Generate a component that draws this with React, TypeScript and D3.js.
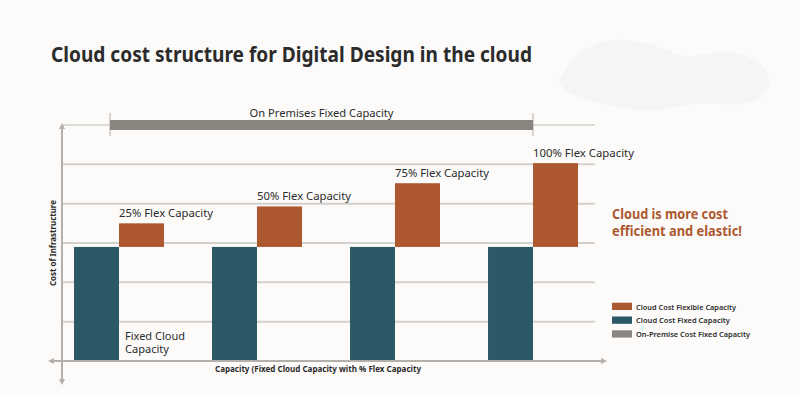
import React from "react";
import * as d3 from "d3";

const categories = ["25%", "50%", "75%", "100%"];
const flexLabels = ["25% Flex Capacity", "50% Flex Capacity", "75% Flex Capacity", "100% Flex Capacity"];
const fixedValues = [2.9, 2.9, 2.9, 2.9];
const flexValues = [0.6, 1.03, 1.62, 2.13];
const onPremValue = 6;
const gridValues = [1, 2, 3, 4, 5, 6];
const legendItems = ["Cloud Cost Flexible Capacity", "Cloud Cost Fixed Capacity", "On-Premise Cost Fixed Capacity"];

const TEAL = "#2c5968";
const ORANGE = "#ad582e";
const GRAY = "#8a857f";
const GRID = "#d3d0cd";
const AXIS = "#b3afab";
const TEXT = "#2b2b2b";
const FONT = "'Noto Sans', 'Open Sans', sans-serif";

export default function App() {
  const W = 800, H = 395;
  const x = d3.scaleBand<string>().domain(categories).range([74, 578]).paddingInner(0.348).paddingOuter(0);
  const sub = d3.scaleBand<string>().domain(["fixed", "flex"]).range([0, x.bandwidth()]).padding(0);
  const y = d3.scaleLinear().domain([0, 6]).range([361, 125]);

  const axisX0 = 50, axisX1 = 605, gridX1 = 595, yAxisX = 62;
  const premStart = (x(categories[0]) as number) + x.bandwidth() * 0.4;
  const premEnd = (x(categories[3]) as number) + x.bandwidth() / 2;

  const legendColors = [ORANGE, TEAL, GRAY];
  const legendTextLen = [100, 94, 114];

  return (
    <svg width={W} height={H} style={{ position: "absolute", left: 0, top: 0, background: "#fcfbfa" }}>
      <rect x={0} y={0} width={W} height={H} fill="#fcfbfa" />
      {/* decorative blob */}
      <path
        d="M565,70 C580,45 610,35 640,42 C670,48 680,60 700,55 C730,48 760,55 768,75 C775,95 750,108 720,104 C690,100 670,112 640,110 C610,108 590,100 575,95 C560,90 555,80 565,70 Z"
        fill="#f6f5f3"
      />
      <text x={51} y={61.5} fontFamily={FONT} fontWeight={700} fontSize={21} fill={TEXT} textLength={481} lengthAdjust="spacingAndGlyphs">
        Cloud cost structure for Digital Design in the cloud
      </text>

      {/* gridlines */}
      {gridValues.map((v) => (
        <line key={v} x1={yAxisX} x2={gridX1} y1={y(v)} y2={y(v)} stroke={GRID} strokeWidth={v === 6 ? 1.5 : 2} />
      ))}

      {/* on premises bar */}
      <line x1={premStart} x2={premStart} y1={113} y2={136} stroke={AXIS} strokeWidth={1} />
      <line x1={premEnd} x2={premEnd} y1={113} y2={136} stroke={AXIS} strokeWidth={1} />
      <rect x={premStart} y={y(onPremValue) - 5} width={premEnd - premStart} height={10} fill={GRAY} />
      <text x={(premStart + premEnd) / 2} y={116.5} textAnchor="middle" fontFamily={FONT} fontSize={11.5} fill={TEXT} textLength={144} lengthAdjust="spacingAndGlyphs">
        On Premises Fixed Capacity
      </text>

      {/* bars */}
      {categories.map((c, i) => {
        const bx = x(c) as number;
        const fx = bx + (sub("fixed") as number);
        const flx = bx + (sub("flex") as number);
        const top = fixedValues[i] + flexValues[i];
        return (
          <g key={c}>
            <rect x={fx} y={y(fixedValues[i])} width={sub.bandwidth()} height={y(0) - y(fixedValues[i])} fill={TEAL} />
            <rect x={flx} y={y(top)} width={sub.bandwidth()} height={y(fixedValues[i]) - y(top)} fill={ORANGE} />
            <text x={flx} y={y(top) - 6} fontFamily={FONT} fontSize={11.5} fill={TEXT} textLength={i === 3 ? 101 : 94} lengthAdjust="spacingAndGlyphs">
              {flexLabels[i]}
            </text>
          </g>
        );
      })}

      <text fontFamily={FONT} fontSize={11.5} fill={TEXT}>
        <tspan x={125} y={340} textLength={60} lengthAdjust="spacingAndGlyphs">Fixed Cloud</tspan>
        <tspan x={125} y={353} textLength={44} lengthAdjust="spacingAndGlyphs">Capacity</tspan>
      </text>

      {/* axes */}
      <line x1={axisX0} x2={axisX1} y1={y(0)} y2={y(0)} stroke={AXIS} strokeWidth={2} />
      <path d={`M${axisX0 - 2},${y(0)} L${axisX0 + 4},${y(0) - 3} L${axisX0 + 4},${y(0) + 3} Z`} fill={AXIS} />
      <path d={`M${axisX1 + 2},${y(0)} L${axisX1 - 4},${y(0) - 3} L${axisX1 - 4},${y(0) + 3} Z`} fill={AXIS} />
      <line x1={yAxisX} x2={yAxisX} y1={125} y2={383} stroke={AXIS} strokeWidth={2} />
      <path d={`M${yAxisX},123 L${yAxisX - 3},129 L${yAxisX + 3},129 Z`} fill={AXIS} />
      <path d={`M${yAxisX},385 L${yAxisX - 3},379 L${yAxisX + 3},379 Z`} fill={AXIS} />

      <text x={215} y={371.7} fontFamily={FONT} fontWeight={700} fontSize={8} fill={TEXT} textLength={206} lengthAdjust="spacingAndGlyphs">
        Capacity (Fixed Cloud Capacity with % Flex Capacity
      </text>
      <text transform="translate(56,243) rotate(-90)" textAnchor="middle" fontFamily={FONT} fontWeight={700} fontSize={8} fill={TEXT} textLength={86} lengthAdjust="spacingAndGlyphs">
        Cost of Infrastructure
      </text>

      {/* callout */}
      <text fontFamily={FONT} fontWeight={700} fontSize={13.5} fill={ORANGE}>
        <tspan x={612} y={219.3} textLength={116} lengthAdjust="spacingAndGlyphs">Cloud is more cost</tspan>
        <tspan x={612} y={235.7} textLength={130} lengthAdjust="spacingAndGlyphs">efficient and elastic!</tspan>
      </text>

      {/* legend */}
      {legendItems.map((l, i) => (
        <g key={l}>
          <rect x={612} y={302.7 + i * 13.8} width={20} height={7.3} fill={legendColors[i]} />
          <text x={636} y={309.5 + i * 13.8} fontFamily={FONT} fontWeight={600} fontSize={7.5} fill={TEXT} textLength={legendTextLen[i]} lengthAdjust="spacingAndGlyphs">
            {l}
          </text>
        </g>
      ))}
    </svg>
  );
}
